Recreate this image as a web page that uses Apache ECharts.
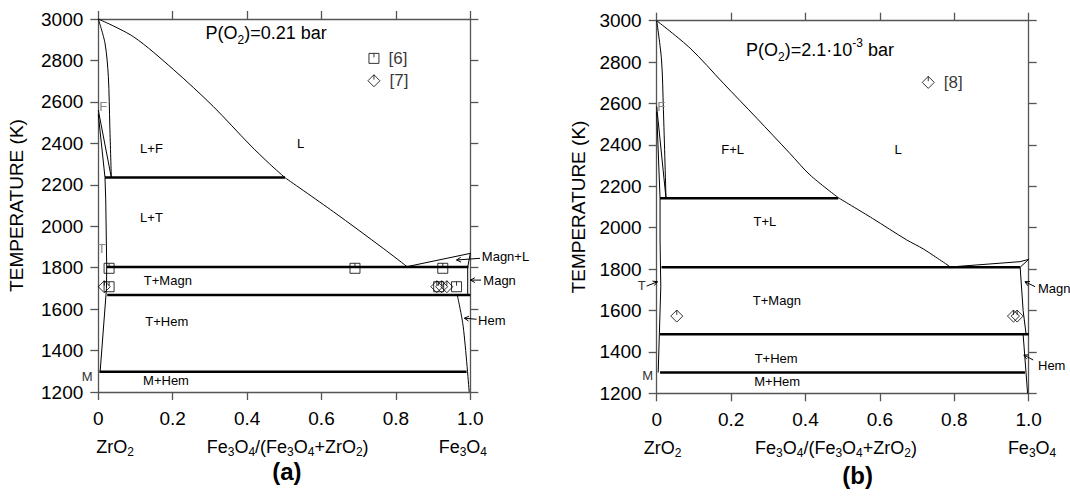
<!DOCTYPE html>
<html><head><meta charset="utf-8">
<script src="https://cdn.jsdelivr.net/npm/echarts@6/dist/echarts.min.js"></script>
<style>html,body{margin:0;padding:0;background:#fff}#c{width:1070px;height:496px}</style>
</head><body><div id="c"></div>
<script>
const FONT = "'Liberation Sans', Arial, sans-serif";
// ---------- tick values ----------
const xTickValues = [0, 0.2, 0.4, 0.6, 0.8, 1.0];
const yTickValues = [1200, 1400, 1600, 1800, 2000, 2200, 2400, 2600, 2800, 3000];

// ---------- panel (a): P(O2)=0.21 bar ----------
const aLiquidusF = [[0,3000],[0.094,2915],[0.202,2756],[0.309,2578],[0.408,2392],[0.461,2300],[0.502,2234]];
const aLiquidusT = [[0.502,2234],[0.632,2070],[0.766,1893],[0.83,1805]];
const aMagnLiquidus = [[0.83,1805],[1.0,1869]];
const aMagnSolidus = [[0.993,1803],[0.997,1840],[1.0,1869]];
const aMagnLeft = [[0.993,1803],[0.993,1668]];
const aHemLeft = [[0.965,1668],[0.981,1515],[0.997,1200]];
const aFRight = [[0,3000],[0.018,2883],[0.027,2722],[0.031,2480],[0.035,2235]];
const aFLow1 = [[0,2560],[0.035,2235]];
const aFLow2 = [[0,2540],[0.018,2235]];
const aTRight = [[0.018,2235],[0.02,2127],[0.0226,1805],[0.022,1700],[0.005,1300]];
const aIso2235 = [[0.018,2235],[0.502,2235]];
const aIso1803 = [[0.022,1803],[0.995,1803]];
const aIso1668 = [[0.024,1668],[1.0,1668]];
const aIso1298 = [[0.003,1298],[0.99,1298]];
const aRef6 = [[0.029,1797],[0.69,1797],[0.926,1797],[0.029,1708],[0.915,1708],[0.963,1708]];
const aRef7 = [[0.016,1708],[0.91,1708],[0.923,1708],[0.937,1708]];
const aLegend6 = [0.741, 2810];
const aLegend7 = [0.741, 2702];
const aRegions = [['L+F',0.143,2373],['L',0.544,2400],['L+T',0.143,2043],['T+Magn',0.187,1737],['T+Hem',0.184,1539],['M+Hem',0.182,1254]];
const aGrayRegions = [['F',0.013,2580],['T',0.009,1893]];
const aOutside = [['M',-0.03,1277]];
const aArrows = [[1.026,1845,0.963,1837],[1.029,1740,1.0005,1740],[1.017,1551,0.984,1556]];
const aArrowTexts = [['Magn+L',1.031,1853],['Magn',1.035,1737],['Hem',1.021,1547]];
const aPressure = [0.451, 2932];

// ---------- panel (b): P(O2)=2.1e-3 bar ----------
const bLiquidusF = [[0,3000],[0.09,2867],[0.179,2698],[0.269,2529],[0.358,2359],[0.412,2255],[0.488,2145]];
const bLiquidusT = [[0.488,2145],[0.58,2045],[0.672,1941],[0.717,1897],[0.788,1812]];
const bMagnLiquidus = [[0.788,1810],[0.977,1836],[1.0,1847]];
const bMagnSolidus = [[0.977,1809],[1.0,1847]];
const bMagnLeft = [[0.977,1809],[0.985,1600],[0.993,1485]];
const bHemLeft = [[0.985,1485],[0.997,1200]];
const bFRight = [[0,3000],[0.013,2810],[0.018,2570],[0.025,2142]];
const bFLow1 = [[0,2585],[0.025,2142]];
const bFLow2 = [[0,2560],[0.009,2142]];
const bTRight = [[0.009,2142],[0.009,1941],[0.011,1715],[0.004,1300]];
const bIso2142 = [[0.009,2142],[0.488,2142]];
const bIso1809 = [[0.013,1809],[0.977,1809]];
const bIso1485 = [[0.009,1485],[1.0,1485]];
const bIso1300 = [[0.009,1300],[0.99,1300]];
const bRef8 = [[0.054,1573],[0.959,1573],[0.969,1573]];
const bLegend8 = [0.730, 2702];
const bRegions = [['F+L',0.204,2379],['L',0.649,2380],['T+L',0.291,2029],['T+Magn',0.323,1646],['T+Hem',0.321,1369],['M+Hem',0.324,1256]];
const bGrayRegions = [['F',0.012,2585]];
const bOutside = [['M',-0.024,1284],['T',-0.04,1722]];
const bArrows = [[-0.027,1718,0.002,1739],[1.017,1715,0.99,1739],[1.012,1361,0.987,1385]];
const bArrowTexts = [['Magn',1.025,1704],['Hem',1.025,1335]];
const bPressure = [0.439, 2859];

// ---------- build ----------
const chart = echarts.init(document.getElementById('c'), null, {renderer:'svg', width:1070, height:496});
const axisColor = '#555';
function xAxes(g){
  const common = {gridIndex:g, type:'value', min:0, max:1, interval:0.2,
    axisLine:{show:true,onZero:false,lineStyle:{color:axisColor,width:1.3}},
    axisTick:{show:true,inside:false,length:8,lineStyle:{color:axisColor,width:1.3}},
    splitLine:{show:false}};
  return [
    Object.assign({}, common, {position:'bottom',
      axisLabel:{show:true,margin:17,fontSize:19,fontFamily:FONT,color:'#000',
        formatter:v=> v===0?'0':v.toFixed(1)}}),
    Object.assign({}, common, {position:'top', axisLabel:{show:false}})
  ];
}
function yAxes(g, gap){
  const common = {gridIndex:g, type:'value', min:1200, max:3000, interval:200,
    axisLine:{show:true,onZero:false,lineStyle:{color:axisColor,width:1.3}},
    axisTick:{show:true,inside:false,length:8,lineStyle:{color:axisColor,width:1.3}},
    splitLine:{show:false}};
  return [
    Object.assign({}, common, {position:'left',
      name:'TEMPERATURE (K)', nameLocation:'middle', nameGap:gap,
      nameTextStyle:{fontSize:19,fontFamily:FONT,color:'#000'},
      axisLabel:{show:true,margin:15,fontSize:19,fontFamily:FONT,color:'#000',
        formatter:v=>String(v)}}),
    Object.assign({}, common, {position:'right', axisLabel:{show:false}})
  ];
}
function line(g, data, width, smooth){
  return {type:'line', xAxisIndex:g*2, yAxisIndex:g*2, data:data, symbol:'none', showSymbol:false,
    smooth: smooth || false,
    lineStyle:{width:width, color:'#000'}, silent:true, animation:false, clip:false, z:3};
}
const squareTick = 'path://M0,0L10,0L10,10L0,10Z M5,0L5,4';
const diamondTick = 'path://M5,0L10,5L5,10L0,5Z M5,0L5,4';
function scatter(g, data, sym, size, labelText){
  return {type:'scatter', xAxisIndex:g*2, yAxisIndex:g*2, symbol:sym, symbolSize:size,
    data:data.map(d=>({value:d})), animation:false, silent:true, clip:false, z:5,
    itemStyle:{color:'rgba(255,255,255,0)', borderColor:'#000', borderWidth:1},
    label: labelText ? {show:true, position:'right', distance:9, formatter:labelText,
      fontSize:17, fontFamily:FONT, color:'#000'} : {show:false}};
}

const series = [
  line(0,aLiquidusF,1,0.3), line(0,aLiquidusT,1,0.3), line(0,aMagnLiquidus,1), line(0,aMagnSolidus,1), line(0,aMagnLeft,1),
  line(0,aHemLeft,1,0.3), line(0,aFRight,1,0.3), line(0,aFLow1,1), line(0,aFLow2,1), line(0,aTRight,1),
  line(0,aIso2235,2.5), line(0,aIso1803,2.5), line(0,aIso1668,2.5), line(0,aIso1298,2.5),
  scatter(0,aRef6,squareTick,[10,10]), scatter(0,aRef7,diamondTick,[12,12]),
  scatter(0,[aLegend6],squareTick,[10,10],'[6]'), scatter(0,[aLegend7],diamondTick,[12,12],'[7]'),
  line(1,bLiquidusF,1,0.3), line(1,bLiquidusT,1,0.3), line(1,bMagnLiquidus,1), line(1,bMagnSolidus,1), line(1,bMagnLeft,1),
  line(1,bHemLeft,1), line(1,bFRight,1,0.3), line(1,bFLow1,1), line(1,bFLow2,1), line(1,bTRight,1),
  line(1,bIso2142,2.5), line(1,bIso1809,2.5), line(1,bIso1485,2.5), line(1,bIso1300,2.5),
  scatter(1,bRef8,diamondTick,[12,12]), scatter(1,[bLegend8],diamondTick,[12,12],'[8]')
];

chart.setOption({
  animation:false,
  backgroundColor:'#fff',
  grid:[{left:98.3, top:19, width:372, height:373},{left:656.7, top:20.7, width:372, height:372.6}],
  xAxis:[...xAxes(0), ...xAxes(1)],
  yAxis:[...yAxes(0,72), ...yAxes(1,69)],
  series:series
});

// ---------- annotations via the chart's own scales ----------
function P(g,x,T){ return chart.convertToPixel({xAxisIndex:g*2, yAxisIndex:g*2},[x,T]); }
const els = [];
function txt(g, s, x, T, opts){
  const p = P(g,x,T);
  els.push({type:'text', x:p[0], y:p[1], silent:true, z:10,
    style:Object.assign({text:s, fill:'#000', fontSize:13, fontFamily:FONT, align:'center', verticalAlign:'middle'}, opts||{})});
}
function arrow(g, a){
  const t = P(g,a[0],a[1]), h = P(g,a[2],a[3]);
  const ang = Math.atan2(h[1]-t[1], h[0]-t[0]);
  const L = 5, sp = 0.5;
  const h1 = [h[0]-L*Math.cos(ang-sp), h[1]-L*Math.sin(ang-sp)];
  const h2 = [h[0]-L*Math.cos(ang+sp), h[1]-L*Math.sin(ang+sp)];
  els.push({type:'line', silent:true, z:10, shape:{x1:t[0],y1:t[1],x2:h[0],y2:h[1]}, style:{stroke:'#000',lineWidth:1}});
  els.push({type:'polyline', silent:true, z:10, shape:{points:[h1,h,h2]}, style:{stroke:'#000',lineWidth:1,fill:null}});
}
aRegions.forEach(r=>txt(0,r[0],r[1],r[2]));
bRegions.forEach(r=>txt(1,r[0],r[1],r[2]));
aGrayRegions.forEach(r=>txt(0,r[0],r[1],r[2],{fill:'#888'}));
bGrayRegions.forEach(r=>txt(1,r[0],r[1],r[2],{fill:'#888'}));
aOutside.forEach(r=>txt(0,r[0],r[1],r[2],{fill:'#333'}));
bOutside.forEach(r=>txt(1,r[0],r[1],r[2],{fill:'#333'}));
aArrows.forEach(a=>arrow(0,a));
bArrows.forEach(a=>arrow(1,a));
aArrowTexts.forEach(r=>txt(0,r[0],r[1],r[2],{align:'left'}));
bArrowTexts.forEach(r=>txt(1,r[0],r[1],r[2],{align:'left'}));

const richP = {
  n:{fontSize:18, fontFamily:FONT, color:'#000', lineHeight:26, verticalAlign:'middle'},
  s:{fontSize:12, fontFamily:FONT, color:'#000', lineHeight:26, verticalAlign:'bottom'},
  p:{fontSize:12, fontFamily:FONT, color:'#000', lineHeight:26, verticalAlign:'top'}
};
const richT = {
  n:{fontSize:18, fontFamily:FONT, color:'#000', lineHeight:22, verticalAlign:'middle'},
  s:{fontSize:12, fontFamily:FONT, color:'#000', lineHeight:22, verticalAlign:'bottom'},
  b:{fontSize:24, fontWeight:'bold', fontFamily:FONT, color:'#000', lineHeight:24}
};
function richTxt(g, s, x, T, dy, rich){
  const p = P(g,x,T);
  els.push({type:'text', x:p[0], y:p[1]+(dy||0), silent:true, z:10,
    style:{text:s, rich:rich, align:'center', verticalAlign:'middle'}});
}
richTxt(0,'{n|P(O}{s|2}{n|)=0.21 bar}', aPressure[0], aPressure[1], 0, richP);
richTxt(1,'{n|P(O}{s|2}{n|)=2.1·10}{p|-3}{n| bar}', bPressure[0], bPressure[1], 0, richP);

// axis end-member titles (placed below the x axis)
richTxt(0,'{n|ZrO}{s|2}', 0.045, 1200, 55, richT);
richTxt(0,'{n|Fe}{s|3}{n|O}{s|4}{n|/(Fe}{s|3}{n|O}{s|4}{n|+ZrO}{s|2}{n|)}', 0.509, 1200, 55, richT);
richTxt(0,'{n|Fe}{s|3}{n|O}{s|4}', 0.98, 1200, 55, richT);
richTxt(1,'{n|ZrO}{s|2}', 0.016, 1200, 55, richT);
richTxt(1,'{n|Fe}{s|3}{n|O}{s|4}{n|/(Fe}{s|3}{n|O}{s|4}{n|+ZrO}{s|2}{n|)}', 0.482, 1200, 55, richT);
richTxt(1,'{n|Fe}{s|3}{n|O}{s|4}', 1.009, 1200, 55, richT);
richTxt(0,'{b|(a)}', 0.507, 1200, 79, richT);
richTxt(1,'{b|(b)}', 0.54, 1200, 82, richT);

chart.setOption({graphic: els});
</script>
</body></html>
